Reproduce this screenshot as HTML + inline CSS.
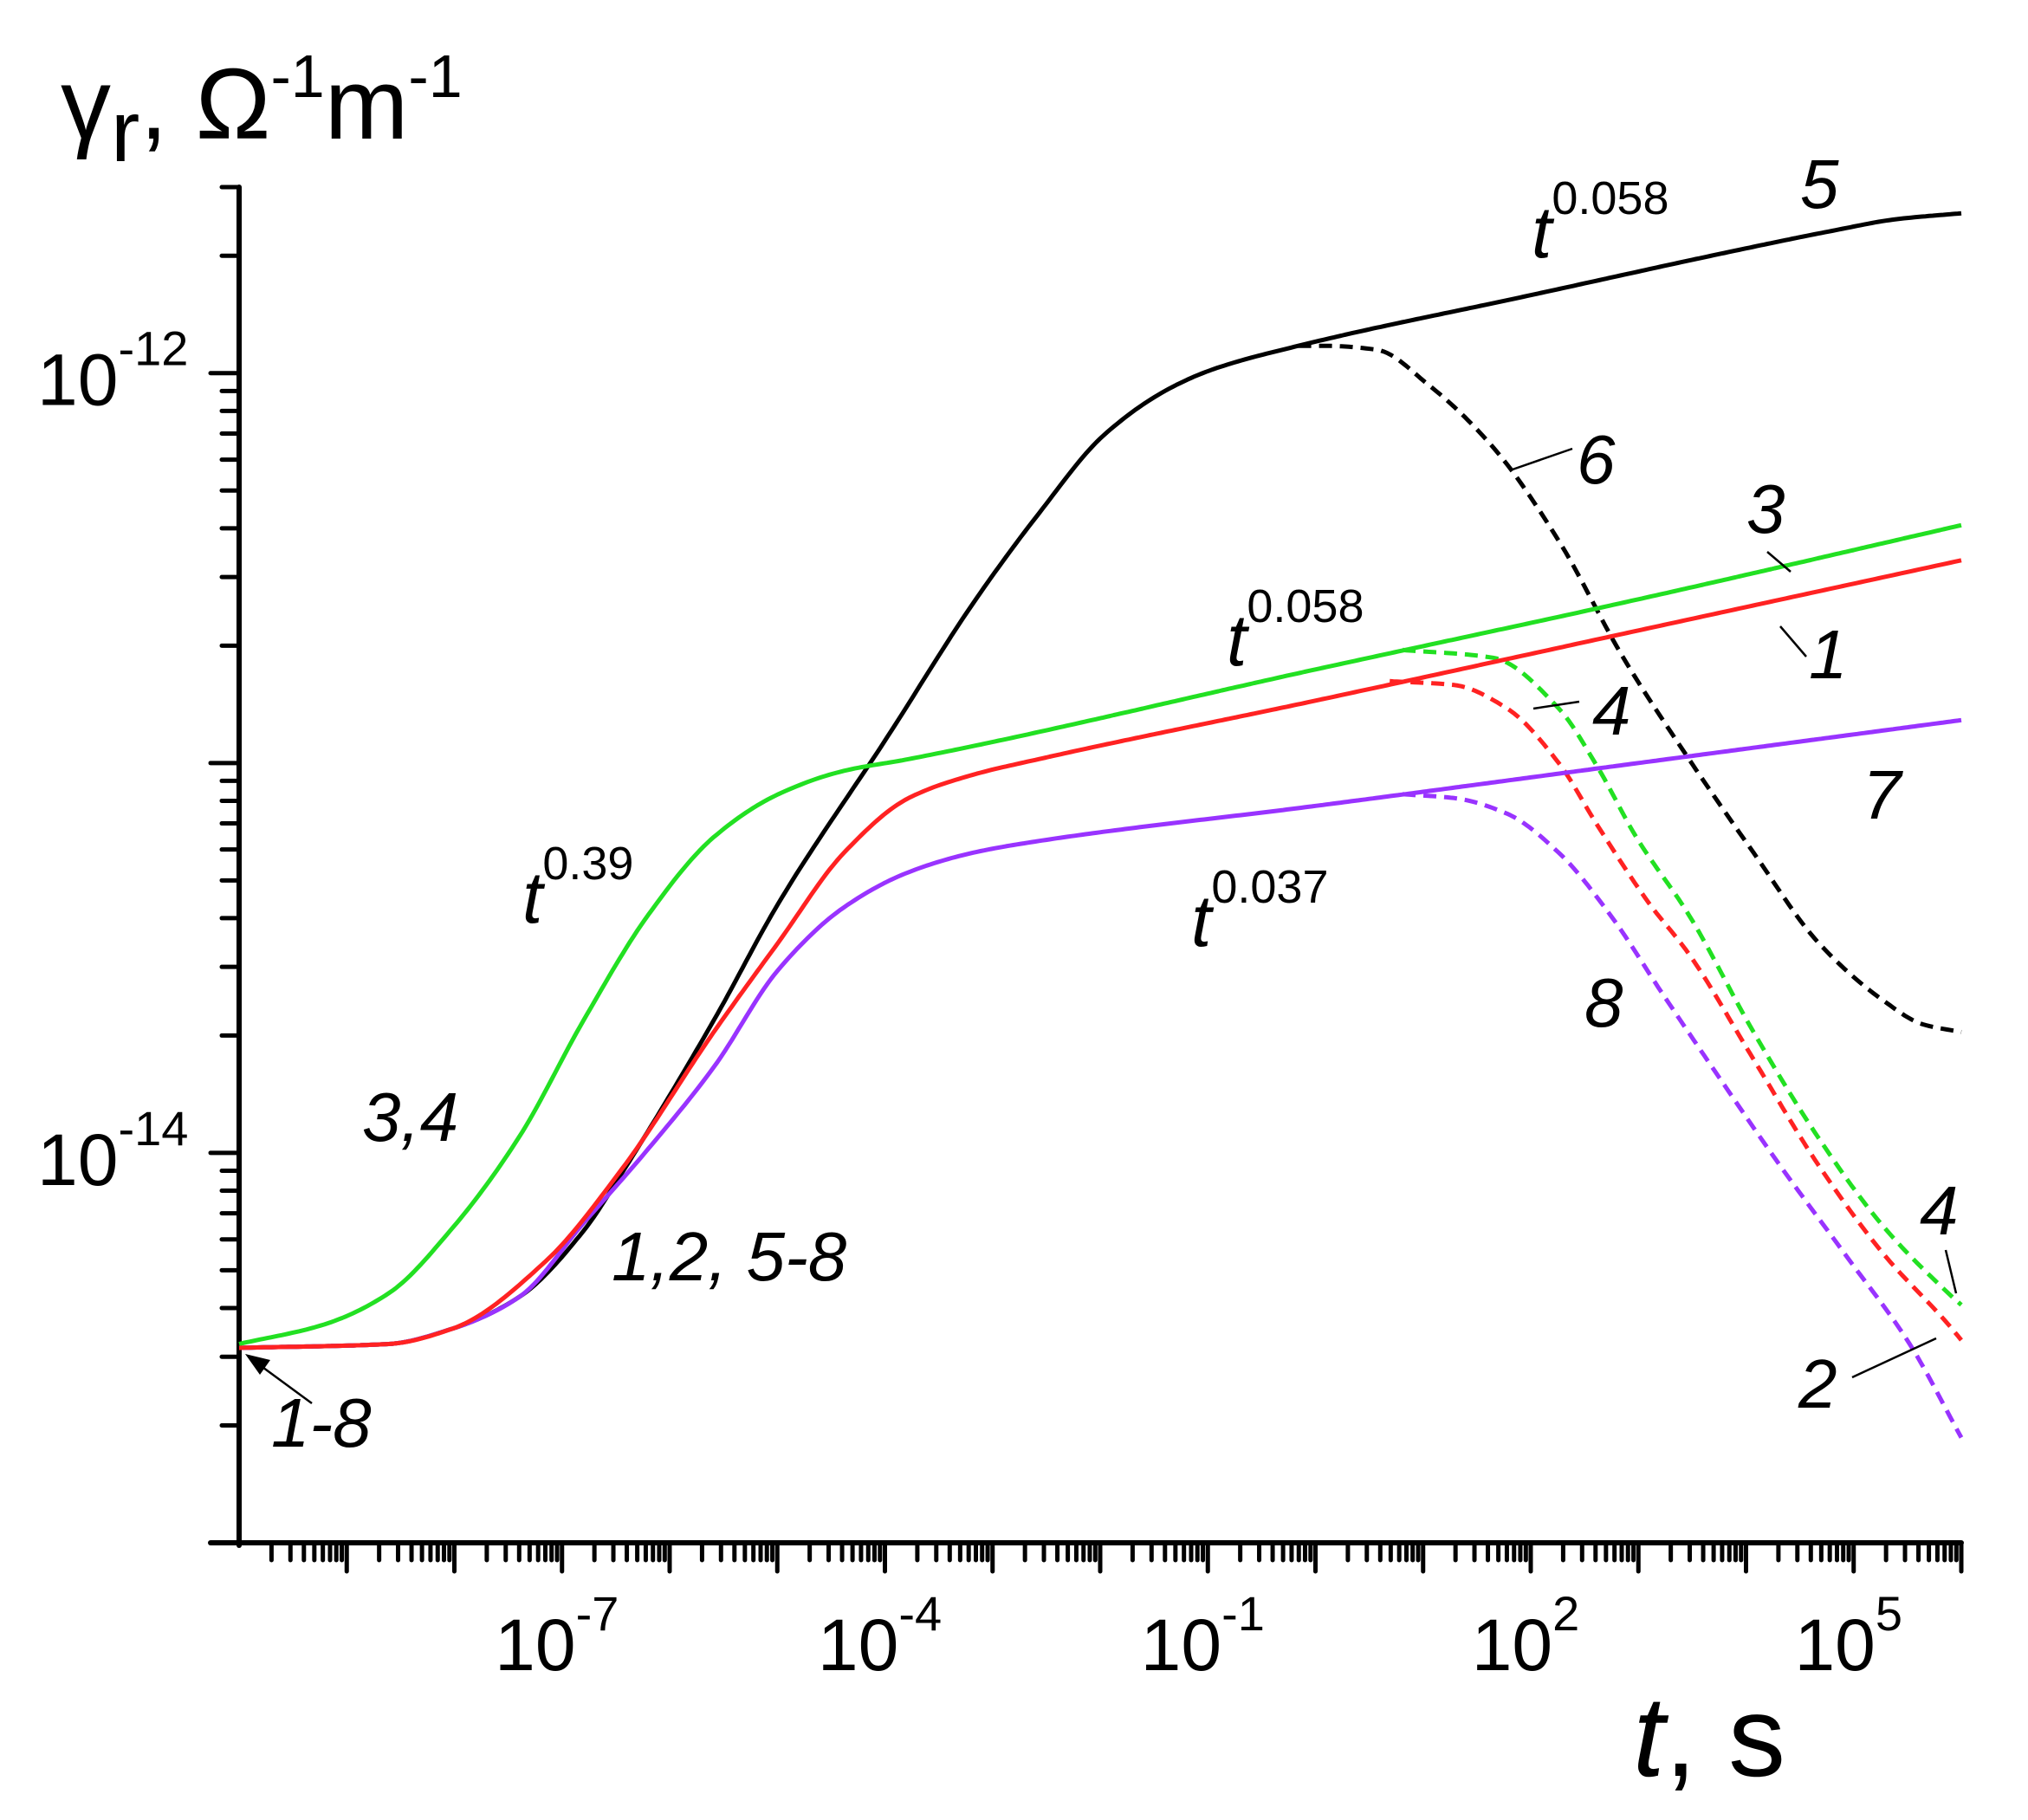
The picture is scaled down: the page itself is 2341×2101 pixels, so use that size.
<!DOCTYPE html>
<html><head><meta charset="utf-8"><style>
html,body{margin:0;padding:0;background:#fff;}
svg{display:block;}
text{font-family:"Liberation Sans",sans-serif;fill:#000;}
.it{font-style:italic;}
</style></head><body>
<svg id="chart" width="2341" height="2101" viewBox="0 0 2341 2101" xmlns="http://www.w3.org/2000/svg">
<g id="axes"></g>
<g id="series"></g>
<g id="labels">
  <text x="70" y="160" font-size="116">γ<tspan font-size="100" dy="26">r</tspan><tspan dy="-26">, Ω</tspan><tspan font-size="70" dy="-48">-1</tspan><tspan dy="48">m</tspan><tspan font-size="70" dy="-48">-1</tspan></text>
  <text x="1885" y="2050" font-size="132"><tspan class="it">t</tspan>, s</text>

  <text class="it" x="2078" y="240" font-size="80">5</text>
  <text x="1768" y="297" font-size="84"><tspan class="it">t</tspan><tspan font-size="54" dy="-50">0.058</tspan></text>
  <text class="it" x="1820" y="558" font-size="80">6</text>
  <text class="it" x="2016" y="615" font-size="80">3</text>
  <text class="it" x="2088" y="783" font-size="80">1</text>
  <text x="1416" y="768" font-size="84"><tspan class="it">t</tspan><tspan font-size="54" dy="-50">0.058</tspan></text>
  <text class="it" x="1838" y="848" font-size="80">4</text>
  <text class="it" x="2150" y="945" font-size="80">7</text>
  <text x="603" y="1065" font-size="84"><tspan class="it">t</tspan><tspan font-size="54" dy="-50">0.39</tspan></text>
  <text x="1375" y="1092" font-size="84"><tspan class="it">t</tspan><tspan font-size="54" dy="-50">0.037</tspan></text>
  <text class="it" x="1829" y="1185" font-size="80">8</text>
  <text class="it" x="418" y="1317" font-size="80">3,4</text>
  <text class="it" x="706" y="1478" font-size="80">1,2, 5-8</text>
  <text class="it" x="2216" y="1425" font-size="80">4</text>
  <text class="it" x="2076" y="1625" font-size="80">2</text>
  <text class="it" x="313" y="1670" font-size="80">1-8</text>

  <g stroke="#000" stroke-width="2.5" fill="none">
    <line x1="1743" y1="543" x2="1815" y2="518"/>
    <line x1="2040" y1="637" x2="2067" y2="660"/>
    <line x1="2055" y1="723" x2="2085" y2="758"/>
    <line x1="1770" y1="818" x2="1823" y2="810"/>
    <line x1="2246" y1="1443" x2="2258" y2="1493"/>
    <line x1="2138" y1="1590" x2="2235" y2="1545"/>
    <line x1="360" y1="1620" x2="296" y2="1573"/>
  </g>
  <polygon points="283,1563 312,1570 300,1587" fill="#000"/>
</g>
</svg>
<script>
// Series data: log10(t [s]) and log10(gamma_r [1/(Ohm m)])
const s5T = [-10,-8.61,-8.01,-7.40,-6.80,-6.44,-5.59,-4.99,-3.97,-3.18,-2.57,-1.97,-1.36,-0.95,-0.16,2.0,4.0,4.8,5.4,6];
const s5Y = [-14.50,-14.49,-14.45,-14.37,-14.20,-14.05,-13.66,-13.36,-12.93,-12.59,-12.36,-12.16,-12.04,-11.99,-11.93,-11.80,-11.68,-11.635,-11.605,-11.59];
const s6T = [-0.16,0.08,0.57,1.05,1.65,2.26,2.86,3.47,4.07,4.67,5.28,5.64,6];
const s6Y = [-11.93,-11.93,-11.94,-12.03,-12.19,-12.43,-12.73,-12.99,-13.23,-13.46,-13.61,-13.67,-13.69];
const s3T = [-10,-9.21,-8.61,-8.01,-7.40,-6.80,-6.20,-5.59,-4.99,-4.38,-3.78,0,3,6];
const s3Y = [-14.49,-14.44,-14.36,-14.19,-13.96,-13.66,-13.39,-13.19,-13.08,-13.02,-12.99,-12.76,-12.58,-12.39];
const s4T = [0.81,1.65,2.26,2.62,2.98,3.47,4.07,4.67,5.28,5.88,6];
const s4Y = [-12.71,-12.73,-12.86,-13.01,-13.19,-13.39,-13.69,-13.96,-14.19,-14.36,-14.39];
const s1T = [-10,-8.61,-8.01,-7.16,-6.44,-5.59,-4.99,-4.38,-3.78,-3.18,-2.57,0,3,6];
const s1Y = [-14.50,-14.49,-14.45,-14.28,-14.04,-13.69,-13.46,-13.23,-13.09,-13.03,-12.99,-12.84,-12.66,-12.48];
const s2T = [0.69,1.29,1.78,2.26,2.62,3.10,3.47,4.07,4.67,5.28,5.88,6];
const s2Y = [-12.79,-12.80,-12.86,-13.00,-13.16,-13.36,-13.49,-13.76,-14.03,-14.26,-14.44,-14.48];
const s7T = [-10,-8.61,-8.01,-7.40,-6.80,-6.20,-5.59,-4.99,-4.38,-3.78,-3.18,-2.57,0,3,6];
const s7Y = [-14.50,-14.49,-14.45,-14.37,-14.18,-13.99,-13.78,-13.53,-13.37,-13.28,-13.23,-13.20,-13.11,-13.00,-12.89];
const s8T = [0.81,1.29,1.78,2.26,2.74,3.22,3.71,4.31,4.92,5.52,6];
const s8Y = [-13.08,-13.09,-13.13,-13.23,-13.39,-13.59,-13.79,-14.03,-14.26,-14.49,-14.73];
const xTickExps = [-7,-4,-1,2,5];
const yTickExps = [-12,-14];

const X0=276, X1=2264, LX0=-10, LX1=6;
const Y0=1781, Y1=216, LY0=-15, LY1=Math.log10(3e-12);
const xs = l => X0 + (l-LX0)/(LX1-LX0)*(X1-X0);
const ys = l => Y0 - (l-LY0)/(LY1-LY0)*(Y0-Y1);
const NS='http://www.w3.org/2000/svg';
const axes=document.getElementById('axes'), ser=document.getElementById('series');
function mk(tag, parent, attrs){const e=document.createElementNS(NS,tag);for(const k in attrs)e.setAttribute(k,attrs[k]);parent.appendChild(e);return e;}

let a=mk('line',axes,{x1:X0,y1:Y1,x2:X0,y2:Y0+3,stroke:'#000','stroke-width':6,'stroke-linecap':'round'});


a=mk('line',axes,{x1:X0-33,y1:Y0,x2:X1,y2:Y0,stroke:'#000','stroke-width':6,'stroke-linecap':'round'});



for(let d=LX0; d<LX1; d++){
  for(let m=1;m<=10;m++){
    const l=d+Math.log10(m); if(l>LX1+1e-9) continue;
    if(m===1 && d===LX0) continue;
    const major=(m===1||m===10);
    if(m===10 && d+1<LX1) continue;
    const x=xs(l);
    const t=mk('line',axes,{x1:x,y1:Y0,x2:x,y2:Y0+(major?33:20),stroke:'#000','stroke-width':5,'stroke-linecap':'round'});
    
    
  }
}
for(let d=LY0; d<=-12; d++){
  for(let m=1;m<=9;m++){
    const l=d+Math.log10(m); if(l>LY1+1e-9) continue;
    if(m===1 && d===LY0) continue;
    const y=ys(l);
    const t=mk('line',axes,{x1:X0,y1:y,x2:X0-(m===1?33:20),y2:y,stroke:'#000','stroke-width':5,'stroke-linecap':'round'});
    
    
  }
}
xTickExps.forEach(e=>{
  const tx=mk('text',axes,{x:xs(e)-6,y:1928,'font-size':84,'text-anchor':'middle'});
  
  
  tx.innerHTML='10<tspan font-size="56" dy="-46">'+(e<0?'-':'')+Math.abs(e)+'</tspan>';
});
yTickExps.forEach(e=>{
  const tx=mk('text',axes,{x:43,y:ys(e)+37,'font-size':84});
  
  
  tx.innerHTML='10<tspan font-size="56" dy="-46">-'+Math.abs(e)+'</tspan>';
});

function path(T,Y){
  const n=T.length, dk=[], m=new Array(n);
  for(let i=0;i<n-1;i++) dk.push((Y[i+1]-Y[i])/(T[i+1]-T[i]));
  m[0]=dk[0]; m[n-1]=dk[n-2];
  for(let i=1;i<n-1;i++){
    if(dk[i-1]*dk[i]<=0) m[i]=0;
    else { const h0=T[i]-T[i-1], h1=T[i+1]-T[i]; const w1=2*h1+h0, w2=h1+2*h0; m[i]=(w1+w2)/(w1/dk[i-1]+w2/dk[i]); }
  }
  let d='M'+xs(T[0]).toFixed(1)+','+ys(Y[0]).toFixed(1);
  for(let i=0;i<n-1;i++){
    const h=T[i+1]-T[i], N=Math.max(4,Math.round(h*30));
    for(let k=1;k<=N;k++){
      const s=k/N, h00=2*s*s*s-3*s*s+1, h10=s*s*s-2*s*s+s, h01=-2*s*s*s+3*s*s, h11=s*s*s-s*s;
      const y=h00*Y[i]+h10*h*m[i]+h01*Y[i+1]+h11*h*m[i+1];
      d+=' L'+xs(T[i]+s*h).toFixed(1)+','+ys(y).toFixed(1);
    }
  }
  return d;
}
function draw(T,Y,color,dash,name){
  const e=mk('path',ser,{d:path(T,Y),fill:'none',stroke:color,'stroke-width':5,'stroke-linejoin':'round'});
  if(dash) e.setAttribute('stroke-dasharray','15 9');
  
  
}
draw(s6T,s6Y,'#000',true,'curve-6');
draw(s8T,s8Y,'#9933ff',true,'curve-8');
draw(s2T,s2Y,'#ff2222',true,'curve-2');
draw(s4T,s4Y,'#22e022',true,'curve-4');
draw(s5T,s5Y,'#000',false,'curve-5');
draw(s7T,s7Y,'#9933ff',false,'curve-7');
draw(s3T,s3Y,'#22e022',false,'curve-3');
draw(s1T,s1Y,'#ff2222',false,'curve-1');
</script>
</body></html>
